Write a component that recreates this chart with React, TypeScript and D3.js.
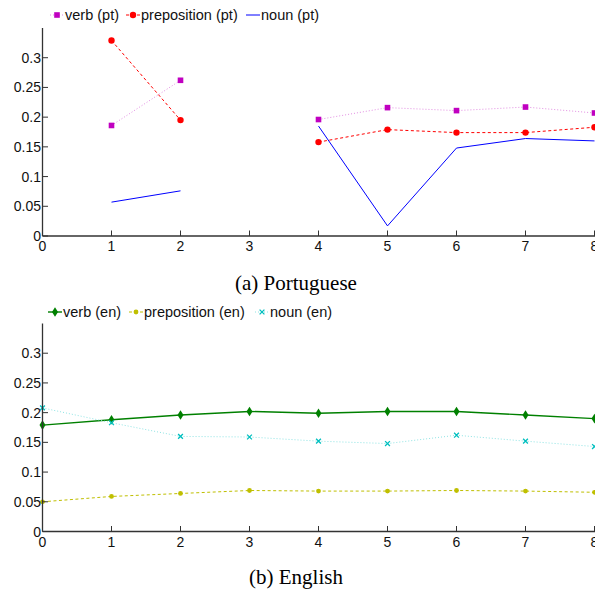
import React, { useEffect, useRef } from 'react';
import * as d3 from 'd3';

// x positions shared by both panels
const positions: number[] = [0, 1, 2, 3, 4, 5, 6, 7, 8];

// (a) Portuguese, null = no value
const verbPt: (number | null)[] = [null, 0.186, 0.262, null, 0.196, 0.216, 0.211, 0.217, 0.207];
const prepPt: (number | null)[] = [null, 0.329, 0.195, null, 0.158, 0.179, 0.174, 0.174, 0.183];
const nounPt: (number | null)[] = [null, 0.057, 0.076, null, 0.185, 0.017, 0.148, 0.164, 0.160];

// (b) English
const verbEn: number[] = [0.179, 0.188, 0.196, 0.202, 0.199, 0.202, 0.202, 0.196, 0.190];
const prepEn: number[] = [0.050, 0.059, 0.064, 0.069, 0.068, 0.068, 0.069, 0.068, 0.066];
const nounEn: number[] = [0.208, 0.183, 0.160, 0.159, 0.152, 0.148, 0.162, 0.152, 0.143];

const yTicks: number[] = [0, 0.05, 0.1, 0.15, 0.2, 0.25, 0.3];
const yTickLabels: string[] = ['0', '0.05', '0.1', '0.15', '0.2', '0.25', '0.3'];

const W = 595;
const H = 592;
const sans = 'Liberation Sans, Arial, sans-serif';
const serif = 'Liberation Serif, Times New Roman, serif';

type Series = {
  name: string;
  values: (number | null)[];
  color: string;
  lineColor: string;
  dash: string | null;
  width: number;
  marker: string;
};

const ptSeries: Series[] = [
  { name: 'verb (pt)', values: verbPt, color: '#c000c0', lineColor: '#e38ee3', dash: '1,2', width: 1, marker: 'square' },
  { name: 'preposition (pt)', values: prepPt, color: '#ff0000', lineColor: '#ff0000', dash: '3,2.5', width: 1, marker: 'circle' },
  { name: 'noun (pt)', values: nounPt, color: '#0000ff', lineColor: '#0000ff', dash: null, width: 1, marker: 'none' },
];

const enSeries: Series[] = [
  { name: 'verb (en)', values: verbEn, color: '#008000', lineColor: '#008000', dash: null, width: 1.4, marker: 'diamond' },
  { name: 'preposition (en)', values: prepEn, color: '#bfbf00', lineColor: '#bfbf00', dash: '3,2.5', width: 1, marker: 'star' },
  { name: 'noun (en)', values: nounEn, color: '#00bfbf', lineColor: '#8ee3e3', dash: '1,2', width: 1, marker: 'x' },
];

const drawMarker = (g: any, kind: string, cx: number, cy: number, color: string) => {
  if (kind === 'square') {
    g.append('rect').attr('x', cx - 2.8).attr('y', cy - 2.8).attr('width', 5.6).attr('height', 5.6).attr('fill', color);
  } else if (kind === 'circle') {
    g.append('circle').attr('cx', cx).attr('cy', cy).attr('r', 3.2).attr('fill', color);
  } else if (kind === 'diamond') {
    g.append('path')
      .attr('d', `M${cx},${cy - 4.8}L${cx + 3},${cy}L${cx},${cy + 4.8}L${cx - 3},${cy}Z`)
      .attr('fill', color);
  } else if (kind === 'star') {
    g.append('circle').attr('cx', cx).attr('cy', cy).attr('r', 2.4).attr('fill', color);
  } else if (kind === 'x') {
    g.append('path')
      .attr('d', `M${cx - 2.4},${cy - 2.4}L${cx + 2.4},${cy + 2.4}M${cx - 2.4},${cy + 2.4}L${cx + 2.4},${cy - 2.4}`)
      .attr('stroke', color)
      .attr('stroke-width', 1.3);
  }
};

const drawPanel = (svg: any, series: Series[], axisY: number, legendY: number, legendX: number[], caption: string, captionY: number, clipId: string) => {
  const x = d3.scaleLinear().domain([0, 8]).range([42.5, 594.5]);
  const y = d3.scaleLinear().domain([0, 0.35]).range([axisY, axisY - 208]);

  svg.append('clipPath').attr('id', clipId)
    .append('rect').attr('x', 0).attr('y', axisY - 215).attr('width', W).attr('height', 220);

  const plot = svg.append('g').attr('clip-path', `url(#${clipId})`);

  series.forEach(s => {
    const pts = positions.map((p, i) => ({ p, v: s.values[i] }));
    const line = d3.line<any>()
      .defined(d => d.v !== null)
      .x(d => x(d.p))
      .y(d => y(d.v));
    plot.append('path')
      .attr('d', line(pts))
      .attr('fill', 'none')
      .attr('stroke', s.lineColor)
      .attr('stroke-width', s.width)
      .attr('stroke-dasharray', s.dash);
    pts.filter(d => d.v !== null).forEach(d => drawMarker(plot, s.marker, x(d.p), y(d.v as number), s.color));
  });

  // axes
  const axisColor = '#333';
  svg.append('line').attr('x1', x(0)).attr('x2', W).attr('y1', axisY).attr('y2', axisY)
    .attr('stroke', axisColor).attr('stroke-width', 1.3);
  svg.append('line').attr('x1', x(0)).attr('x2', x(0)).attr('y1', y(0.35)).attr('y2', axisY)
    .attr('stroke', axisColor).attr('stroke-width', 1.3);

  positions.forEach(p => {
    svg.append('line').attr('x1', x(p)).attr('x2', x(p)).attr('y1', axisY).attr('y2', axisY - 5.5)
      .attr('stroke', axisColor).attr('stroke-width', 1);
    svg.append('text').attr('x', x(p)).attr('y', axisY + 15)
      .attr('text-anchor', 'middle').attr('font-family', sans).attr('font-size', 14).attr('fill', '#111')
      .text(String(p));
  });

  yTicks.forEach((t, i) => {
    svg.append('line').attr('x1', x(0)).attr('x2', x(0) + 5.5).attr('y1', y(t)).attr('y2', y(t))
      .attr('stroke', axisColor).attr('stroke-width', 1);
    svg.append('text').attr('x', x(0) - 1.5).attr('y', y(t) + 5)
      .attr('text-anchor', 'end').attr('font-family', sans).attr('font-size', 14).attr('fill', '#111')
      .text(yTickLabels[i]);
  });

  // legend
  series.forEach((s, i) => {
    const lx = legendX[i];
    svg.append('line').attr('x1', lx - 7).attr('x2', lx + 7).attr('y1', legendY).attr('y2', legendY)
      .attr('stroke', s.lineColor).attr('stroke-width', s.width).attr('stroke-dasharray', s.dash);
    drawMarker(svg, s.marker, lx, legendY, s.color);
    svg.append('text').attr('x', lx + 8).attr('y', legendY + 5)
      .attr('font-family', sans).attr('font-size', 14.5).attr('fill', '#111')
      .text(s.name);
  });

  svg.append('text').attr('x', 296).attr('y', captionY)
    .attr('text-anchor', 'middle').attr('font-family', serif).attr('font-size', 21).attr('fill', '#000')
    .text(caption);
};

export default function App() {
  const ref = useRef<SVGSVGElement>(null);

  useEffect(() => {
    const svg = d3.select(ref.current);
    svg.selectAll('*').remove();
    svg.append('rect').attr('width', W).attr('height', H).attr('fill', '#fff');
    drawPanel(svg, ptSeries, 236, 15, [57, 133, 253], '(a) Portuguese', 290, 'clipA');
    drawPanel(svg, enSeries, 531.5, 312, [55, 136, 262], '(b) English', 584, 'clipB');
  }, []);

  return (
    <svg ref={ref} width={W} height={H} style={{ position: 'absolute', left: 0, top: 0 }} />
  );
}
